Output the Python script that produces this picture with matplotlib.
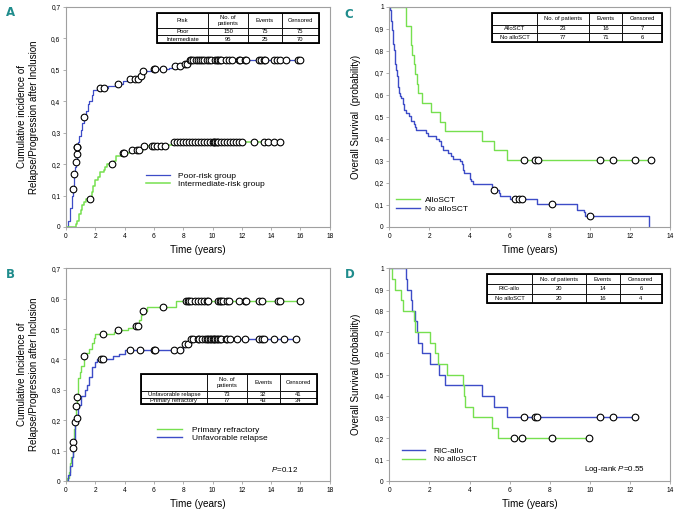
import numpy as np
import matplotlib
matplotlib.use('Agg')
import matplotlib.pyplot as plt
from matplotlib.ticker import FuncFormatter, MultipleLocator
from matplotlib.patches import Rectangle

plt.rcParams['font.family'] = ['Liberation Sans', 'DejaVu Sans']
plt.rcParams['mathtext.fontset'] = 'custom'
plt.rcParams['mathtext.rm'] = 'Liberation Sans'
plt.rcParams['mathtext.it'] = 'Liberation Sans:italic'

BLUE = '#3d4cc7'
GREEN = '#76e04f'
TEAL = '#1f8c8c'

# ---- panel A : cumulative incidence by risk group
a_poor_t = [0, 0.15, 0.3, 0.4, 0.45, 0.55, 0.58, 0.65, 0.68, 0.72, 0.76, 0.8, 0.9, 1.0, 1.1, 1.2,
            1.35, 1.5, 1.6, 1.75, 1.85, 2.1, 2.3, 2.9, 3.4, 3.9, 4.3, 5.0, 5.2, 5.8, 7.0, 7.4,
            8.0, 8.3, 8.45, 16.1]
a_poor_y = [0, 0.02, 0.06, 0.10, 0.12, 0.15, 0.168, 0.19, 0.207, 0.232, 0.255, 0.27, 0.29, 0.31,
            0.33, 0.35, 0.37, 0.39, 0.40, 0.42, 0.435, 0.44, 0.443, 0.45, 0.455, 0.465, 0.47,
            0.48, 0.495, 0.503, 0.507, 0.513, 0.52, 0.525, 0.531, 0.531]
a_poor_cens = [0.45, 0.58, 0.68, 0.73, 0.77, 0.78, 1.25, 2.3, 2.57, 3.57, 4.36, 4.7, 4.93, 5.1,
               5.27, 6.0, 6.1, 6.6, 7.43, 7.77, 8.14, 8.25, 8.45, 8.55, 8.7, 8.85, 9.0, 9.15,
               9.3, 9.45, 9.6, 9.75, 9.9, 10.2, 10.3, 10.4, 10.5, 10.6, 10.9, 11.1, 11.3, 11.8,
               11.9, 12.2, 12.3, 13.2, 13.3, 13.5, 13.6, 14.2, 14.4, 14.6, 15.0, 15.8, 16.0]
a_int_t = [0, 0.68, 0.75, 0.9, 1.0, 1.1, 1.2, 1.4, 1.75, 1.85, 2.0, 2.2, 2.35, 2.6, 2.65, 2.8,
           3.3, 3.4, 3.9, 4.5, 5.25, 6.8, 7.3, 14.7]
a_int_y = [0, 0.01, 0.02, 0.04, 0.055, 0.07, 0.08, 0.09, 0.11, 0.13, 0.15, 0.16, 0.175, 0.18,
           0.19, 0.2, 0.21, 0.225, 0.235, 0.245, 0.257, 0.262, 0.271, 0.271]
a_int_cens = [1.66, 3.16, 3.9, 3.95, 4.52, 4.86, 5.0, 5.3, 5.84, 6.0, 6.2, 6.45, 6.75, 7.35, 7.6,
              7.8, 8.0, 8.2, 8.4, 8.6, 8.8, 9.0, 9.2, 9.4, 9.6, 9.8, 10.0, 10.1, 10.2, 10.3,
              10.4, 10.6, 10.8, 11.0, 11.2, 11.4, 11.6, 11.8, 12.0, 12.85, 13.5, 13.8, 14.2, 14.6]
a_head = ['Risk', 'No. of\npatients', 'Events', 'Censored']
a_rows = [['Poor', '150', '75', '75'], ['Intermediate', '95', '25', '70']]

# ---- panel B : cumulative incidence, refractory vs relapse
b_ref_t = [0, 0.1, 0.2, 0.3, 0.35, 0.45, 0.55, 0.62, 0.66, 0.75, 0.8, 0.85, 0.95, 1.05, 1.2,
           1.25, 1.4, 1.6, 1.75, 1.9, 1.95, 3.3, 3.55, 4.2, 4.6, 5.0, 5.1, 5.2, 5.5, 7.5, 16.1]
b_ref_y = [0, 0.01, 0.03, 0.06, 0.08, 0.129, 0.17, 0.2, 0.248, 0.275, 0.31, 0.34, 0.36, 0.38,
           0.40, 0.413, 0.42, 0.435, 0.455, 0.47, 0.484, 0.49, 0.497, 0.505, 0.511, 0.53,
           0.545, 0.56, 0.573, 0.593, 0.593]
b_ref_cens = [0.45, 0.68, 0.77, 1.25, 2.55, 3.57, 4.75, 4.93, 5.27, 6.64, 8.2, 8.3, 8.4, 8.5,
              8.8, 9.0, 9.2, 9.4, 9.6, 9.7, 10.4, 10.5, 10.6, 10.7, 11.0, 11.1, 11.8, 12.2,
              12.3, 13.2, 13.4, 14.5, 14.6, 16.0]
b_rel_t = [0, 0.15, 0.25, 0.4, 0.5, 0.55, 0.6, 0.65, 0.72, 0.8, 0.9, 1.05, 1.3, 1.45, 1.6, 1.8,
           1.95, 2.1, 3.2, 3.6, 4.0, 8.0, 8.45, 15.8]
b_rel_y = [0, 0.02, 0.05, 0.08, 0.108, 0.13, 0.17, 0.195, 0.208, 0.24, 0.25, 0.28, 0.30, 0.316,
           0.343, 0.376, 0.393, 0.40, 0.41, 0.418, 0.431, 0.45, 0.467, 0.467]
b_rel_cens = [0.5, 0.65, 0.73, 2.36, 2.5, 4.36, 5.05, 6.0, 6.1, 7.38, 7.77, 8.11, 8.34, 8.5,
              8.7, 9.0, 9.1, 9.3, 9.5, 9.6, 9.7, 9.8, 9.9, 10.0, 10.1, 10.2, 10.3, 10.4, 10.5,
              10.6, 10.9, 11.0, 11.2, 11.7, 12.2, 13.2, 13.4, 13.5, 14.2, 14.9, 15.7]
b_head = ['', 'No. of\npatients', 'Events', 'Censored']
b_rows = [['Unfavorable relapse', '73', '32', '41'], ['Primary refractory', '77', '43', '34']]

# ---- panel C : overall survival, alloSCT vs none
c_allo_t = [0, 0.83, 0.85, 1.08, 1.1, 1.12, 1.25, 1.3, 1.38, 1.45, 1.65, 2.08, 2.53, 2.78, 4.6,
            5.22, 5.87, 13.05]
c_allo_y = [1, 0.957, 0.913, 0.870, 0.826, 0.783, 0.739, 0.696, 0.652, 0.609, 0.565, 0.522,
            0.478, 0.435, 0.391, 0.348, 0.304, 0.304]
c_allo_cens = [6.7, 7.25, 7.4, 10.5, 11.15, 12.25, 13.05]
c_no_t = [0, 0.03, 0.06, 0.1, 0.13, 0.16, 0.2, 0.23, 0.27, 0.3, 0.34, 0.37, 0.41, 0.45, 0.5,
          0.55, 0.6, 0.68, 0.75, 0.85, 1.0, 1.1, 1.25, 1.3, 1.35, 1.85, 1.95, 2.35, 2.5, 2.6,
          2.7, 2.95, 3.1, 3.2, 3.55, 3.65, 3.7, 3.75, 4.0, 4.05, 4.15, 5.1, 5.15, 5.45, 5.5,
          6.0, 7.35, 9.35, 9.7, 9.75, 12.95]
c_no_y = [1, 0.987, 0.961, 0.935, 0.896, 0.87, 0.831, 0.805, 0.779, 0.74, 0.714, 0.688, 0.662,
          0.636, 0.61, 0.597, 0.584, 0.558, 0.532, 0.519, 0.506, 0.48, 0.467, 0.454, 0.441,
          0.428, 0.415, 0.402, 0.389, 0.37, 0.35, 0.337, 0.324, 0.311, 0.298, 0.285, 0.259,
          0.246, 0.22, 0.207, 0.194, 0.181, 0.168, 0.155, 0.142, 0.128, 0.105, 0.079, 0.066,
          0.052, 0.0]
c_no_cens = [5.2, 6.25, 6.45, 6.6, 8.1, 10.0]
c_head = ['', 'No. of patients', 'Events', 'Censored']
c_rows = [['AlloSCT', '23', '16', '7'], ['No alloSCT', '77', '71', '6']]

# ---- panel D : overall survival, RIC-allo vs none
d_ric_t = [0, 0.83, 0.9, 1.08, 1.13, 1.28, 1.36, 1.41, 1.61, 2.03, 2.5, 2.78, 4.6, 5.22, 5.85,
           12.25]
d_ric_y = [1, 0.95, 0.9, 0.85, 0.8, 0.75, 0.7, 0.65, 0.6, 0.55, 0.5, 0.45, 0.4, 0.35, 0.3, 0.3]
d_ric_cens = [6.7, 7.27, 7.38, 10.5, 11.17, 12.25]
d_no_t = [0, 0.15, 0.28, 0.58, 0.7, 1.23, 1.28, 2.03, 2.28, 2.45, 2.86, 3.66, 3.72, 3.77, 4.19,
          5.1, 5.44, 10.0]
d_no_y = [1, 0.95, 0.9, 0.85, 0.8, 0.75, 0.7, 0.65, 0.6, 0.55, 0.5, 0.45, 0.4, 0.35, 0.3,
          0.25, 0.2, 0.2]
d_no_cens = [6.22, 6.6, 8.1, 9.98]
d_head = ['', 'No. of patients', 'Events', 'Censored']
d_rows = [['RIC-allo', '20', '14', '6'], ['No alloSCT', '20', '16', '4']]


def comma(v, pos):
    if abs(v) < 1e-9:
        return '0'
    if abs(v - 1) < 1e-9:
        return '1'
    return ('%.1f' % v).replace('.', ',')


def step_at(t, y, c):
    idx = np.searchsorted(t, c, side='right') - 1
    return np.asarray(y)[idx]


def curve(ax, t, y, cens, color, lw, label):
    ax.step(t, y, where='post', color=color, lw=lw, label=label)
    ax.plot(cens, step_at(t, y, cens), 'o', ms=4.8, mfc='white', mec='black', mew=0.8,
            zorder=3, clip_on=False)


def frame(ax, xmax, ymax, ystep):
    ax.set_xlim(0, xmax)
    ax.set_ylim(0, ymax)
    ax.xaxis.set_major_locator(MultipleLocator(2))
    ax.yaxis.set_major_locator(MultipleLocator(ystep))
    ax.yaxis.set_major_formatter(FuncFormatter(comma))
    for s in ax.spines.values():
        s.set_color('#a0a0a0')
        s.set_linewidth(0.8)
    ax.tick_params(length=2, width=0.5, color='#909090', labelsize=4.8, pad=2)
    ax.set_xlabel('Time (years)', fontsize=7.2, labelpad=4)


def table(ax, head, rows, bbox, col_w, row_h, left_first=False):
    cells = [head] + rows
    tb = ax.table(cellText=cells, cellLoc='center', colWidths=col_w, bbox=bbox)
    tb.auto_set_font_size(False)
    tb.set_fontsize(4.2)
    tb.set_zorder(5)
    for (r, c), cell in tb.get_celld().items():
        cell.set_height(row_h[r])
        cell.set_linewidth(0.6)
        cell.PAD = 0.03
        if left_first and c == 0 and r > 0:
            cell._loc = 'left'
    ax.add_patch(Rectangle((bbox[0], bbox[1]), bbox[2], bbox[3], transform=ax.transAxes,
                           fill=False, lw=1.3, ec='black', zorder=6, clip_on=False))


fig = plt.figure(figsize=(6.8, 5.17), dpi=100)

axA = fig.add_axes([0.097, 0.561, 0.388, 0.4255])
axC = fig.add_axes([0.5725, 0.561, 0.4128, 0.4255])
axB = fig.add_axes([0.097, 0.0696, 0.388, 0.4114])
axD = fig.add_axes([0.5725, 0.0696, 0.4128, 0.4114])

# A
curve(axA, a_poor_t, a_poor_y, a_poor_cens, BLUE, 0.9, 'Poor-risk group')
curve(axA, a_int_t, a_int_y, a_int_cens, GREEN, 1.1, 'Intermediate-risk group')
frame(axA, 18, 0.7, 0.1)
axA.set_ylabel('Cumulative incidence of\nRelapse/Progression after Inclusion', fontsize=7, labelpad=9)
table(axA, a_head, a_rows, [0.345, 0.836, 0.614, 0.136], [51, 40, 34, 37], [15, 6.7, 7.7], True)
axA.legend(loc='upper left', bbox_to_anchor=(0.303, 0.25), frameon=False, fontsize=6,
           handlelength=2.9, handletextpad=1.0, labelspacing=0.05, borderpad=0, borderaxespad=0)

# B
curve(axB, b_ref_t, b_ref_y, b_ref_cens, GREEN, 1.0, 'Primary refractory')
curve(axB, b_rel_t, b_rel_y, b_rel_cens, BLUE, 1.0, 'Unfavorable relapse')
frame(axB, 18, 0.7, 0.1)
axB.set_ylabel('Cumulative Incidence of\nRelapse/Progression after Inclusion', fontsize=7, labelpad=9)
table(axB, b_head, b_rows, [0.284, 0.361, 0.667, 0.141], [66, 40, 33, 37], [16.7, 6.7, 6.6], True)
axB.legend(loc='upper left', bbox_to_anchor=(0.345, 0.26), frameon=False, fontsize=6,
           handlelength=3.0, handletextpad=1.2, labelspacing=0.1, borderpad=0, borderaxespad=0)
axB.text(0.879, 0.052, '$\\it{P}$=0.12', transform=axB.transAxes, ha='right', va='center', fontsize=5.8)

# C
curve(axC, c_allo_t, c_allo_y, c_allo_cens, GREEN, 1.0, 'AlloSCT')
curve(axC, c_no_t, c_no_y, c_no_cens, BLUE, 1.0, 'No alloSCT')
frame(axC, 14, 1.0, 0.1)
axC.set_ylabel('Overall Survival  (probability)', fontsize=7, labelpad=10)
table(axC, c_head, c_rows, [0.366, 0.841, 0.606, 0.132], [45, 52, 33, 40], [12, 8, 9])
axC.legend(loc='upper left', bbox_to_anchor=(0.024, 0.14), frameon=False, fontsize=6,
           handlelength=2.9, handletextpad=0.6, labelspacing=0.15, borderpad=0, borderaxespad=0)

# D
curve(axD, d_ric_t, d_ric_y, d_ric_cens, BLUE, 1.0, 'RIC-allo')
curve(axD, d_no_t, d_no_y, d_no_cens, GREEN, 1.0, 'No alloSCT')
frame(axD, 14, 1.0, 0.1)
axD.set_ylabel('Overall Survival (probability)', fontsize=7, labelpad=10)
table(axD, d_head, d_rows, [0.348, 0.837, 0.623, 0.136], [45, 54, 34, 42], [10, 9.5, 9.5])
axD.legend(loc='upper left', bbox_to_anchor=(0.045, 0.16), frameon=False, fontsize=6,
           handlelength=2.8, handletextpad=1.0, labelspacing=0.1, borderpad=0, borderaxespad=0)
axD.text(0.911, 0.052, 'Log-rank $\\it{P}$=0.55', transform=axD.transAxes, ha='right', va='center', fontsize=5.8)

# panel letters
for lab, x, y in [('A', 0.008, 0.975), ('C', 0.507, 0.972), ('B', 0.008, 0.47), ('D', 0.507, 0.47)]:
    fig.text(x, y, lab, color=TEAL, fontsize=8.5, fontweight='bold', ha='left', va='center',
             family='DejaVu Sans')

fig.savefig('out.png', dpi=100)
